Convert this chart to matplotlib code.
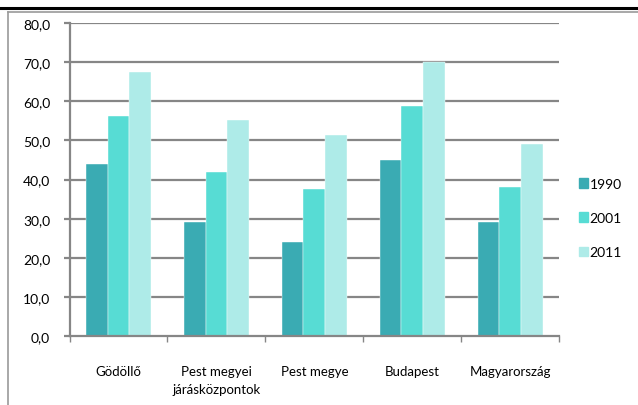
import numpy as np
import matplotlib.pyplot as plt
from matplotlib.lines import Line2D
from matplotlib.patches import Patch

plt.rcParams['font.family'] = ['Lato', 'DejaVu Sans']

categories = ['Gödöllő', 'Pest megyei\njárásközpontok', 'Pest megye', 'Budapest', 'Magyarország']
years = ['1990', '2001', '2011']
v1990 = [44.1, 29.3, 24.0, 45.1, 29.3]
v2001 = [56.3, 41.9, 37.5, 58.7, 38.2]
v2011 = [67.4, 55.2, 51.5, 70.0, 49.0]
colors = ['#3aabb3', '#57dcd4', '#aeebe8']
grid_col = '#868686'

fig = plt.figure(figsize=(6.38, 4.06), dpi=100)
ax = fig.add_axes([69.5 / 638, 1 - 337.3 / 406, 489.7 / 638, 313.3 / 406])

x = np.arange(len(categories))
w = 0.222
for i, (vals, c) in enumerate(zip([v1990, v2001, v2011], colors)):
    ax.bar(x + (i - 1) * w, vals, width=w, color=c, zorder=3, label=years[i],
           edgecolor='white', linewidth=0.3)

ax.set_xlim(-0.5, len(categories) - 0.5)
ax.set_ylim(0, 80)
yt = np.arange(0, 81, 10)
ax.set_yticks(yt)
ax.set_yticklabels([f'{v:.1f}'.replace('.', ',') for v in yt], fontsize=10)
for v in yt[1:]:
    ax.axhline(v, color=grid_col, lw=1.6, zorder=2)

# category boundary ticks on the x axis
ax.set_xticks(np.arange(-0.5, len(categories), 1.0))
ax.set_xticklabels([])
ax.set_xticks(x, minor=True)
ax.set_xticklabels(categories, minor=True, fontsize=9.5, linespacing=1.6)
ax.tick_params(axis='x', which='minor', length=0, pad=21)
ax.tick_params(axis='x', which='major', length=4, color=grid_col, width=1)
ax.tick_params(axis='y', length=4, color=grid_col, width=1.6, pad=10)

for s in ['top', 'right']:
    ax.spines[s].set_visible(False)
for s in ['left', 'bottom']:
    ax.spines[s].set_color(grid_col)
    ax.spines[s].set_linewidth(1.6)
    ax.spines[s].set_zorder(4)

handles = [Patch(color=c) for c in colors]
fig.legend(handles, years, loc='center left', bbox_to_anchor=(566 / 638, 1 - 219 / 406),
           frameon=False, fontsize=10, handlelength=0.65, handleheight=0.65,
           handletextpad=0.15, labelspacing=1.6)

# page frame around the chart
fig.add_artist(Line2D([0, 1], [1 - 8.7 / 406] * 2, color='black', lw=2.2))
fig.add_artist(Line2D([7.5 / 638, 1], [1 - 13.3 / 406] * 2, color='#9a9a9a', lw=1.2))
fig.add_artist(Line2D([7.5 / 638] * 2, [0, 1 - 13.3 / 406], color='#9a9a9a', lw=1.2))

fig.savefig('out.png', dpi=100)
